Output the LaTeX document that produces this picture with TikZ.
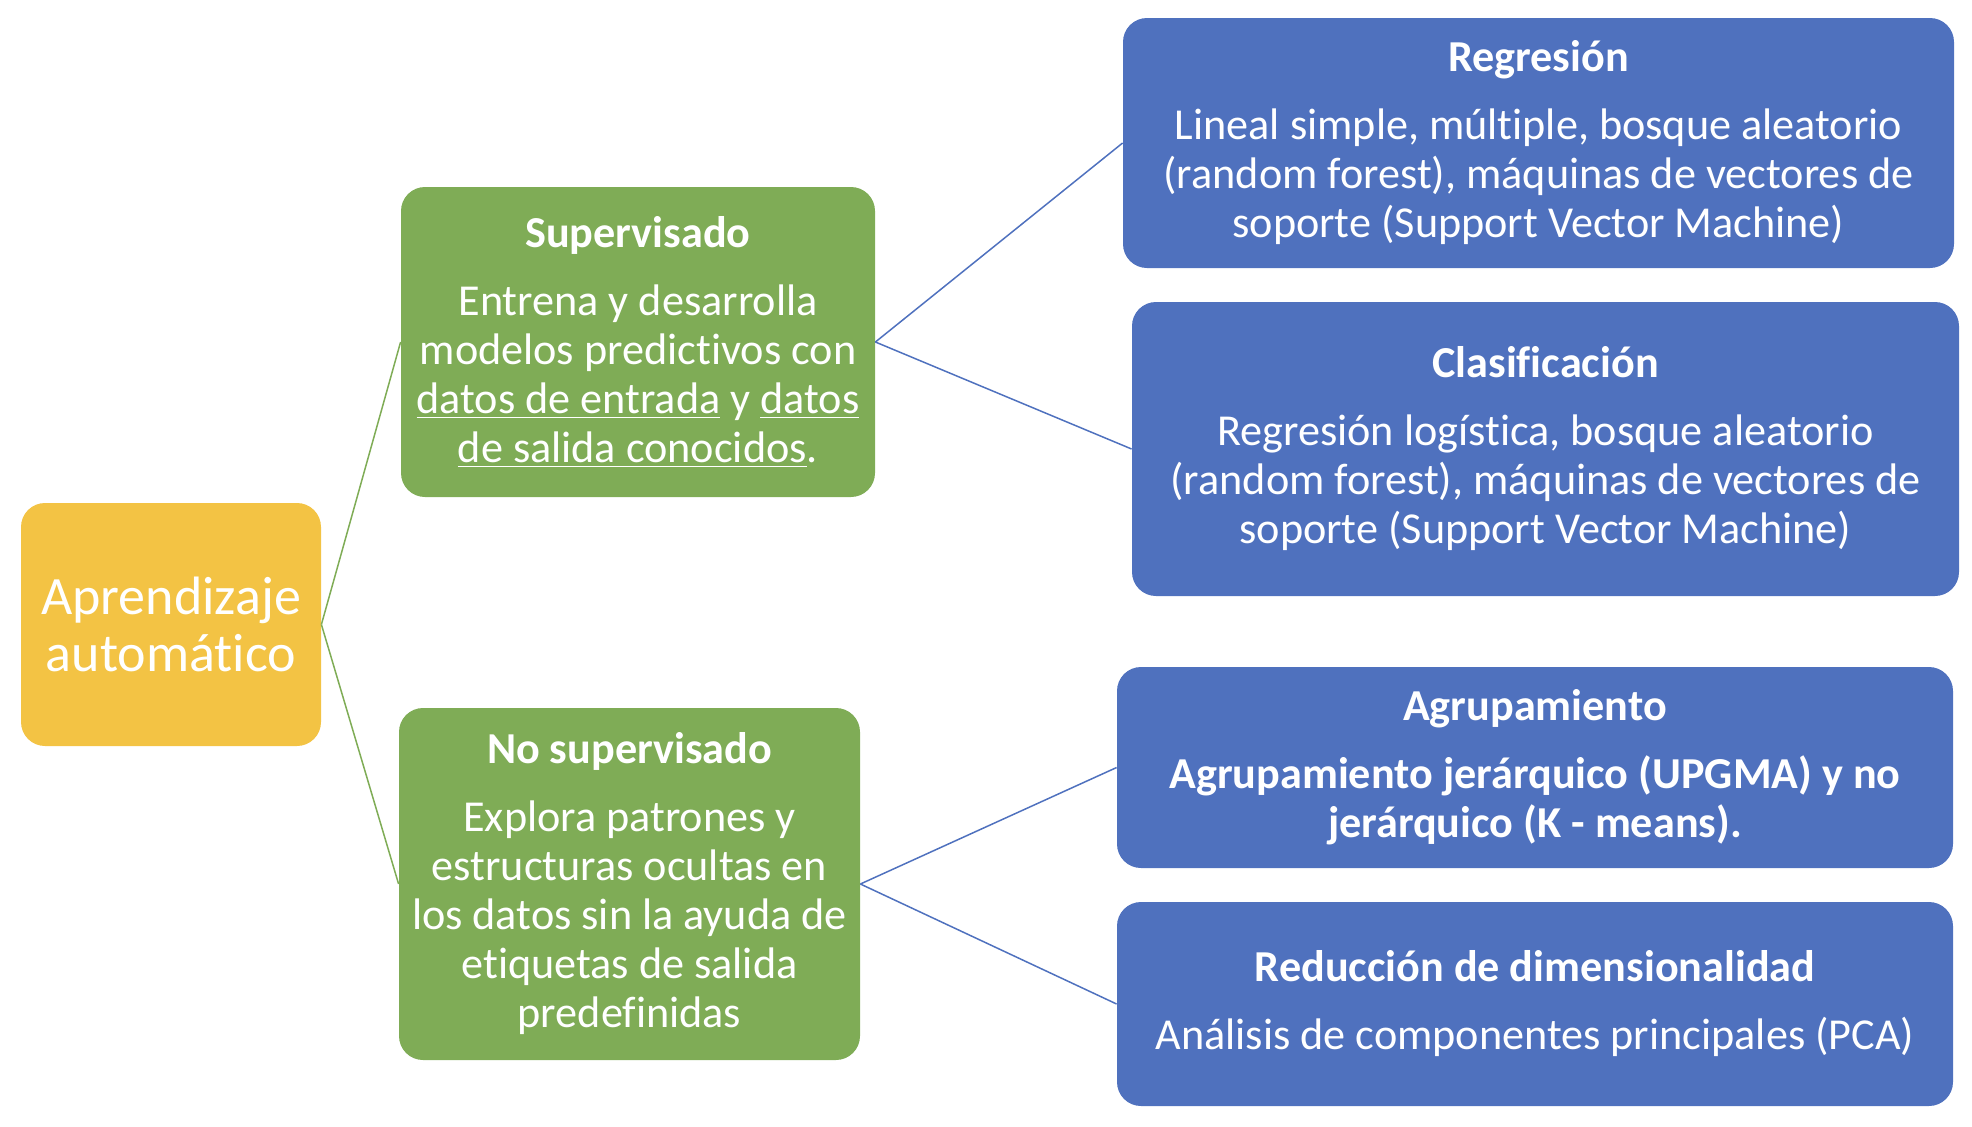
\documentclass[tikz,border=0pt]{standalone}
\usepackage{fontspec}
\setmainfont{Carlito}[Ligatures=NoCommon]

\definecolor{amarillo}{HTML}{F3C344}
\definecolor{verde}{HTML}{7FAC56}
\definecolor{azul}{HTML}{4F71BE}
\newcommand{\cuerpo}{\fontsize{22.1}{24.5}\selectfont}
\newcommand{\grande}{\fontsize{27}{28.5}\selectfont}

\begin{document}
\begin{tikzpicture}[x=0.5pt, y=-0.5pt,
  caja/.style={draw=none, rounded corners=12pt, text=white, align=center, inner sep=0pt, font=\cuerpo},
  hoja/.style={caja, fill=azul, minimum width=416pt},
  rama/.style={line width=0.75pt}]
  \useasboundingbox (0,0) rectangle (1972,1126);

  % raiz
  \node[caja, fill=amarillo, minimum width=150pt, minimum height=121.5pt, font=\grande] (root) at (171,624.5) {Aprendizaje\\automático};

  % dos ramas verdes
  \node[caja, fill=verde, minimum width=237pt, minimum height=155pt] (sup) at (638,342)
    {\textbf{Supervisado}\\[9.5pt]Entrena y desarrolla\\modelos predictivos con\\\underline{datos de entrada} y \underline{datos}\\\underline{de salida conocidos}.};
  \node[caja, fill=verde, minimum width=230.5pt, minimum height=176pt] (nosup) at (629.5,884)
    {\textbf{No supervisado}\\[9.5pt]Explora patrones y\\estructuras ocultas en\\los datos sin la ayuda de\\etiquetas de salida\\predefinidas};

  % hojas azules
  \node[hoja, minimum width=415.5pt, minimum height=125pt] (reg) at (1538.5,143)
    {\textbf{Regresión}\\[9.5pt]Lineal simple, múltiple, bosque aleatorio\\(random forest), máquinas de vectores de\\soporte (Support Vector Machine)};
  \node[hoja, minimum width=413.5pt, minimum height=147pt] (clas) at (1545.5,449)
    {\textbf{Clasificación}\\[9.5pt]Regresión logística, bosque aleatorio\\(random forest), máquinas de vectores de\\soporte (Support Vector Machine)};
  \node[hoja, minimum width=418pt, minimum height=100.5pt] (agr) at (1535,767.5)
    {\textbf{Agrupamiento}\\[9.5pt]\textbf{Agrupamiento jerárquico (UPGMA) y no}\\\textbf{jerárquico (K - means).}};
  \node[hoja, minimum width=418pt, minimum height=102pt] (red) at (1535,1004)
    {\textbf{Reducción de dimensionalidad}\\[9.5pt]Análisis de componentes principales (PCA)};

  % conectores
  \draw[rama, verde] (root.east) -- (sup.west);
  \draw[rama, verde] (root.east) -- (nosup.west);
  \draw[rama, azul] (sup.east) -- (reg.west);
  \draw[rama, azul] (sup.east) -- (clas.west);
  \draw[rama, azul] (nosup.east) -- (agr.west);
  \draw[rama, azul] (nosup.east) -- (red.west);
\end{tikzpicture}
\end{document}
